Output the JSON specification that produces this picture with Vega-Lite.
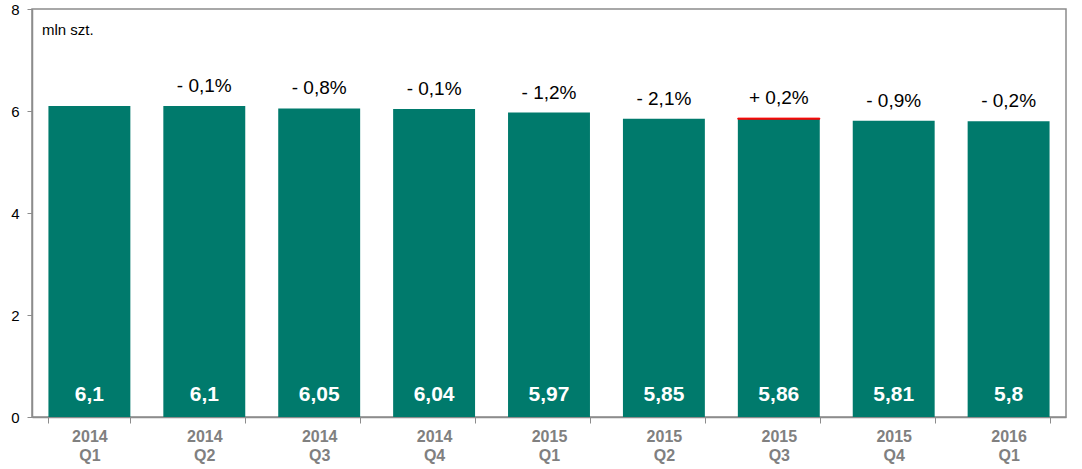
{
  "$schema": "https://vega.github.io/schema/vega-lite/v6.json",
  "width": 1034,
  "height": 408,
  "autosize": {"type": "none"},
  "padding": {"left": 32, "top": 9, "right": 16, "bottom": 52},
  "background": "white",
  "config": {
    "font": "Liberation Sans",
    "view": {"stroke": "#8c8c8c", "strokeWidth": 1.5}
  },
  "data": {
    "values": [
      {"q": "2014 Q1", "value": 6.1, "label": "6,1", "change": ""},
      {"q": "2014 Q2", "value": 6.1, "label": "6,1", "change": "- 0,1%"},
      {"q": "2014 Q3", "value": 6.05, "label": "6,05", "change": "- 0,8%"},
      {"q": "2014 Q4", "value": 6.04, "label": "6,04", "change": "- 0,1%"},
      {"q": "2015 Q1", "value": 5.97, "label": "5,97", "change": "- 1,2%"},
      {"q": "2015 Q2", "value": 5.85, "label": "5,85", "change": "- 2,1%"},
      {"q": "2015 Q3", "value": 5.86, "label": "5,86", "change": "+ 0,2%", "prev": 5.84},
      {"q": "2015 Q4", "value": 5.81, "label": "5,81", "change": "- 0,9%"},
      {"q": "2016 Q1", "value": 5.8, "label": "5,8", "change": "- 0,2%"}
    ]
  },
  "layer": [
    {
      "mark": {"type": "bar", "color": "#007A6C"},
      "encoding": {
        "x": {
          "field": "q",
          "type": "nominal",
          "sort": null,
          "scale": {"paddingInner": 0.287, "paddingOuter": 0.143},
          "axis": {
            "title": null,
            "labelAngle": 0,
            "labelExpr": "split(datum.label, ' ')",
            "labelLineHeight": 19,
            "labelFont": "Liberation Sans",
            "labelFontSize": 16,
            "labelFontWeight": "bold",
            "labelColor": "#808080",
            "labelPadding": 5,
            "tickBand": "extent",
            "tickSize": 6,
            "tickColor": "#8c8c8c",
            "domainColor": "#8c8c8c",
            "domainWidth": 1.5
          }
        },
        "y": {
          "field": "value",
          "type": "quantitative",
          "scale": {"domain": [0, 8], "nice": false},
          "axis": {
            "title": null,
            "values": [0, 2, 4, 6, 8],
            "grid": false,
            "labelFontSize": 15,
            "labelColor": "#000000",
            "labelPadding": 8,
            "tickSize": 5,
            "tickColor": "#8c8c8c",
            "domainColor": "#8c8c8c",
            "domainWidth": 1.5
          }
        }
      }
    },
    {
      "transform": [{"filter": "isValid(datum.prev)"}],
      "mark": {"type": "bar", "color": "#FF0000", "stroke": "#FF0000", "strokeWidth": 1},
      "encoding": {
        "x": {"field": "q", "type": "nominal", "sort": null},
        "y": {"field": "prev", "type": "quantitative"},
        "y2": {"field": "value"}
      }
    },
    {
      "mark": {"type": "text", "color": "white", "fontSize": 21, "fontWeight": "bold", "baseline": "middle", "dy": -22},
      "encoding": {
        "x": {"field": "q", "type": "nominal", "sort": null},
        "y": {"datum": 0, "type": "quantitative"},
        "text": {"field": "label"}
      }
    },
    {
      "mark": {"type": "text", "color": "black", "fontSize": 19, "baseline": "alphabetic", "dy": -14},
      "encoding": {
        "x": {"field": "q", "type": "nominal", "sort": null},
        "y": {"field": "value", "type": "quantitative"},
        "text": {"field": "change"}
      }
    },
    {
      "data": {"values": [{"t": "mln szt."}]},
      "mark": {"type": "text", "color": "black", "fontSize": 15, "align": "left", "baseline": "middle"},
      "encoding": {
        "x": {"value": 10},
        "y": {"value": 21},
        "text": {"field": "t"}
      }
    }
  ]
}
